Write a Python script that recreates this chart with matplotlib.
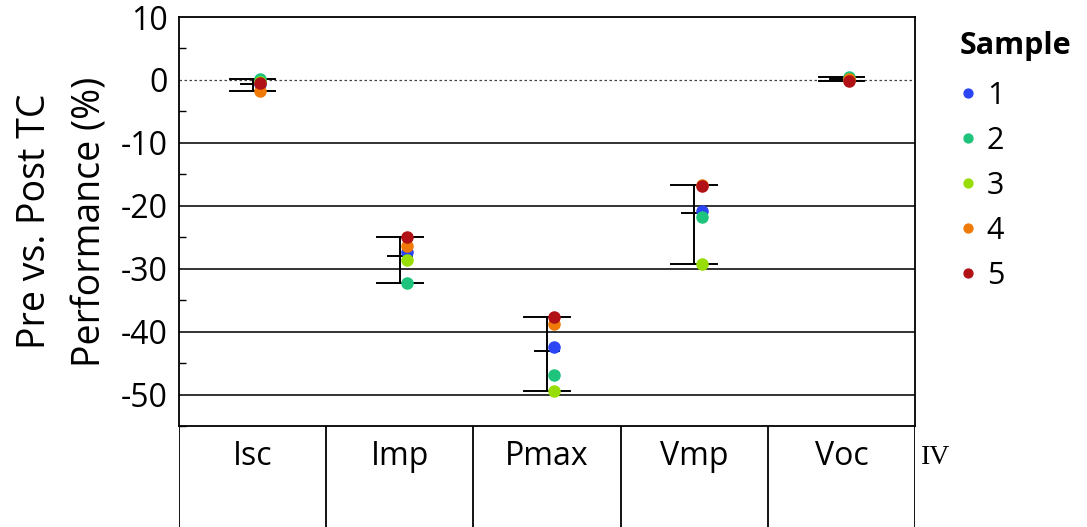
import matplotlib.pyplot as plt
import numpy as np

plt.rcParams['font.family'] = ['Open Sans', 'DejaVu Sans']
plt.rcParams['axes.unicode_minus'] = False

# Data
params = ['Isc', 'Imp', 'Pmax', 'Vmp', 'Voc']
samples = ['1', '2', '3', '4', '5']
colors = ['#2b45f5', '#1ec47c', '#98de06', '#f07a08', '#b01216']

# percent change per sample (rows = parameter, columns = sample 1..5)
isc = [-0.6, 0.1, -0.3, -1.8, -0.5]
imp = [-27.4, -32.2, -28.6, -26.4, -25.0]
pmax = [-42.4, -46.9, -49.4, -38.8, -37.7]
vmp = [-20.9, -21.8, -29.2, -16.7, -16.9]
voc = [0.2, 0.5, 0.0, 0.1, -0.1]
values = [isc, imp, pmax, vmp, voc]

fig = plt.figure(figsize=(10.87, 5.27), dpi=100)
ax = fig.add_axes([179 / 1087, 1 - 426 / 527, 736 / 1087, 409 / 527])

x = np.arange(len(params))

# range bars with mean tick
for i, vals in enumerate(values):
    lo, hi, mean = min(vals), max(vals), np.mean(vals)
    ax.plot([i, i], [lo, hi], color='black', lw=1.4, zorder=3)
    ax.plot([i - 0.155, i + 0.155], [hi, hi], color='black', lw=1.4, zorder=3)
    ax.plot([i - 0.155, i + 0.155], [lo, lo], color='black', lw=1.4, zorder=3)
    ax.plot([i - 0.08, i + 0.08], [mean, mean], color='black', lw=1.4, zorder=3)

# points per sample
for j, s in enumerate(samples):
    ys = [vals[j] for vals in values]
    ax.plot(x + 0.05, ys, 'o', color=colors[j], markersize=8, zorder=4,
            linestyle='none', label=s)

ax.set_xlim(-0.5, 4.5)
ax.set_ylim(-55, 10)
ax.set_xticks([])
ax.set_yticks([10, 0, -10, -20, -30, -40, -50])
ax.set_yticks(np.arange(-55, 10, 5), minor=True)
ax.tick_params(axis='y', which='major', length=0, labelsize=23, pad=8)
ax.tick_params(axis='y', which='minor', direction='in', length=5, width=1)

for g in [-10, -20, -30, -40, -50]:
    ax.axhline(g, color='#222222', lw=1.3, zorder=1)
ax.axhline(0, color='#444444', lw=0.9, linestyle=(0, (2, 2)), zorder=1)

for sp in ax.spines.values():
    sp.set_linewidth(1.3)

ax.set_ylabel('Pre vs. Post TC\nPerformance (%)', fontsize=27, labelpad=8,
              linespacing=1.6)

# category label strip
lab = fig.add_axes([179 / 1087, 0, 736 / 1087, 101 / 527])
lab.set_xlim(-0.5, 4.5)
lab.set_ylim(0, 1)
lab.axis('off')
for b in np.arange(-0.5, 5, 1):
    lab.axvline(b, color='black', lw=1.3)
for i, p in enumerate(params):
    lab.text(i, 0.70, p, ha='center', va='center', fontsize=23)
fig.text(921 / 1087, 1 - 457 / 527, 'IV', ha='left', va='center', fontsize=20,
         family=['Liberation Serif', 'DejaVu Serif'])

leg = ax.legend(loc='upper left', bbox_to_anchor=(944 / 1087, 1 - 16 / 527),
                bbox_transform=fig.transFigure, frameon=False, title='Sample',
                fontsize=22, handletextpad=0.3, labelspacing=0.49,
                markerscale=0.8, handlelength=0.6, borderpad=0)
leg.get_title().set_fontsize(22)
leg.get_title().set_fontweight('bold')
leg._legend_box.align = 'left'
leg._legend_box.sep = 14

fig.savefig('out.png', dpi=100)
